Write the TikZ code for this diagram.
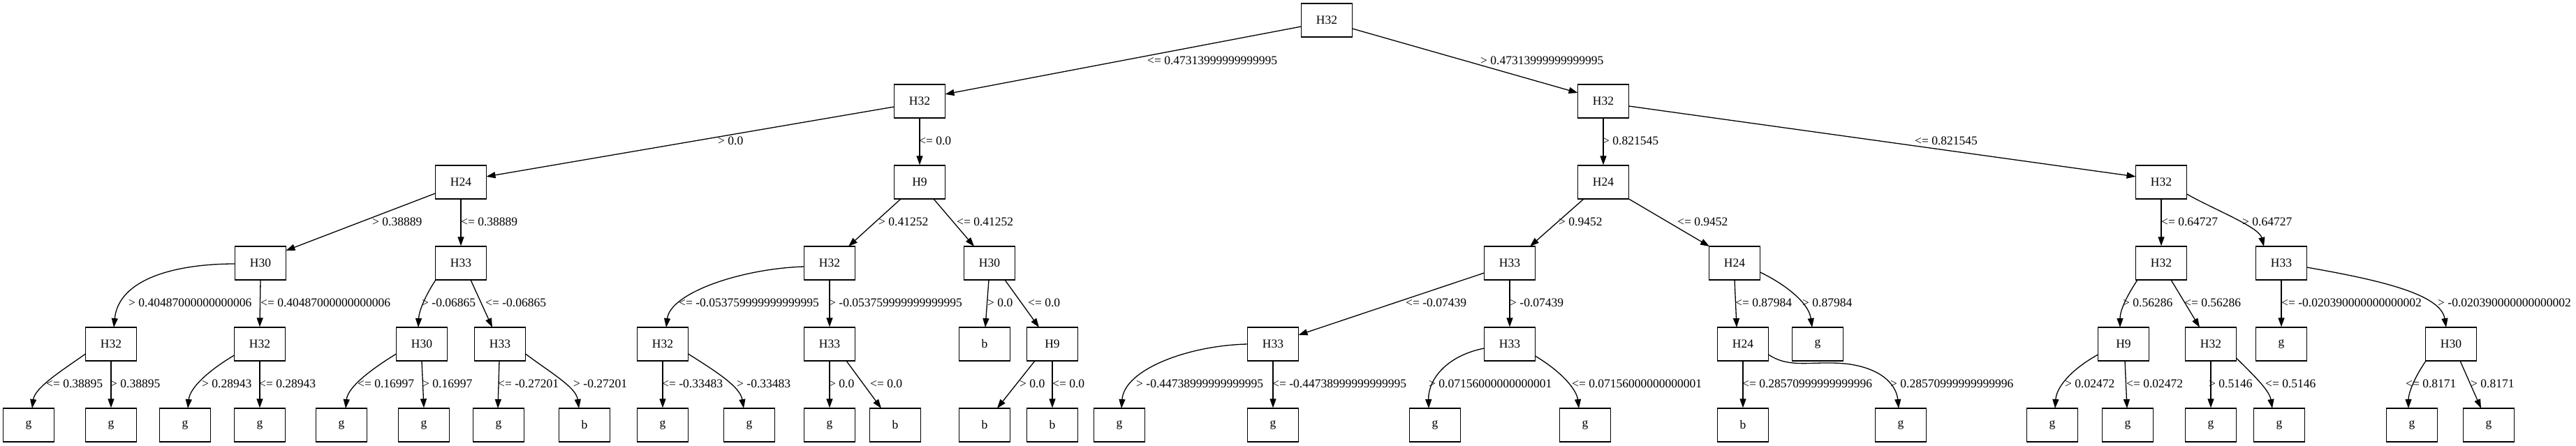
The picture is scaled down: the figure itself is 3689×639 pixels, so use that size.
\documentclass[tikz,border=0pt]{standalone}
\usepackage{fontspec}
\setmainfont{Liberation Serif}
\usetikzlibrary{arrows.meta,calc}
\begin{document}
\begin{tikzpicture}[x=1pt,y=-1pt,
  every node/.style={font=\fontsize{17.5}{21}\selectfont},
  box/.style={draw, line width=1.3pt, minimum width=73pt, minimum height=48pt, inner sep=0pt},
  lbl/.style={anchor=west, inner sep=0pt},
  edge/.style={line width=1.3pt, -{Triangle[length=13pt,width=9pt]}}]
\useasboundingbox (0,0) rectangle (3689,639);
% level 0
\node[box] (r) at (1900,29) {H32};
% level 1
\node[box] (a) at (1317,145) {H32};
\node[box] (b) at (2296,145) {H32};
% level 2
\node[box] (aa) at (660,261) {H24};
\node[box] (ab) at (1317,261) {H9};
\node[box] (ba) at (2296,261) {H24};
\node[box] (bb) at (3095,261) {H32};
% level 3
\node[box] (aaa) at (373,377) {H30};
\node[box] (aab) at (660,377) {H33};
\node[box] (aba) at (1188,377) {H32};
\node[box] (abb) at (1417,377) {H30};
\node[box] (baa) at (2162,377) {H33};
\node[box] (bab) at (2484,377) {H24};
\node[box] (bba) at (3095,377) {H32};
\node[box] (bbb) at (3267,377) {H33};
% level 4
\node[box] (aaaa) at (159,493) {H32};
\node[box] (aaab) at (372,493) {H32};
\node[box] (aaba) at (604,493) {H30};
\node[box] (aabb) at (716,493) {H33};
\node[box] (abaa) at (949,493) {H32};
\node[box] (abab) at (1188,493) {H33};
\node[box] (abba) at (1410,493) {b};
\node[box] (abbb) at (1507,493) {H9};
\node[box] (baaa) at (1823,493) {H33};
\node[box] (baab) at (2162,493) {H33};
\node[box] (baba) at (2496,493) {H24};
\node[box] (babb) at (2603,493) {g};
\node[box] (bbaa) at (3041,493) {H9};
\node[box] (bbab) at (3166,493) {H32};
\node[box] (bbba) at (3267,493) {g};
\node[box] (bbbb) at (3510,493) {H30};
% level 5
\node[box] (aaaa1) at (41,609) {g};
\node[box] (aaaa2) at (159,609) {g};
\node[box] (aaab1) at (265,609) {g};
\node[box] (aaab2) at (372,609) {g};
\node[box] (aaba1) at (489,609) {g};
\node[box] (aaba2) at (607,609) {g};
\node[box] (aabb1) at (714,609) {g};
\node[box] (aabb2) at (837,609) {b};
\node[box] (abaa1) at (949,609) {g};
\node[box] (abaa2) at (1073,609) {g};
\node[box] (abab1) at (1188,609) {g};
\node[box] (abab2) at (1282,609) {b};
\node[box] (abbb1) at (1410,609) {b};
\node[box] (abbb2) at (1507,609) {b};
\node[box] (baaa1) at (1603,609) {g};
\node[box] (baaa2) at (1823,609) {g};
\node[box] (baab1) at (2055,609) {g};
\node[box] (baab2) at (2270,609) {g};
\node[box] (baba1) at (2496,609) {b};
\node[box] (baba2) at (2722,609) {g};
\node[box] (bbaa1) at (2939,609) {g};
\node[box] (bbaa2) at (3047,609) {g};
\node[box] (bbab1) at (3166,609) {g};
\node[box] (bbab2) at (3264,609) {g};
\node[box] (bbbb1) at (3454,609) {g};
\node[box] (bbbb2) at (3564,609) {g};

% edges level 0-1
\draw[edge] ($(r)+(-36.5,9)$) -- ($(a)+(36.5,-10)$);
\draw[edge] ($(r)+(36.5,12)$) -- ($(b)+(-36.5,-12)$);
% level 1-2
\draw[edge] ($(a)+(-36.5,8)$) -- ($(aa)+(36.5,-8)$);
\draw[edge] (a.south) -- (ab.north);
\draw[edge] (b.south) -- (ba.north);
\draw[edge] ($(b)+(36.5,7)$) -- ($(bb)+(-36.5,-8)$);
% level 2-3
\draw[edge] ($(aa)+(-36.5,16)$) -- ($(aaa)+(36.5,-18)$);
\draw[edge] (aa.south) -- (aab.north);
\draw[edge] ($(ab)+(-27,24)$) -- ($(aba)+(27,-24)$);
\draw[edge] ($(ab)+(20,24)$) -- ($(abb)+(-22,-24)$);
\draw[edge] ($(ba)+(-28,24)$) -- ($(baa)+(29,-24)$);
\draw[edge] ($(ba)+(36.5,24)$) -- ($(bab)+(-36,-24)$);
\draw[edge] (bb.south) -- (bba.north);
\draw[edge] ($(bb)+(36.5,17)$) .. controls (3170,300) and (3235,325) .. ($(bbb)+(-25,-24)$);
% level 3-4
\draw[edge] ($(aaa)+(-36.5,1)$) .. controls (250,378) and (170,400) .. ($(aaaa)+(4,-24)$);
\draw[edge] (aaa.south) -- (aaab.north);
\draw[edge] ($(aab)+(-36,24)$) .. controls (610,422) and (600,445) .. ($(aaba)+(-5,-24)$);
\draw[edge] ($(aab)+(14,24)$) -- ($(aabb)+(-11,-24)$);
\draw[edge] ($(aba)+(-36.5,5)$) .. controls (1060,385) and (960,420) .. ($(abaa)+(5,-24)$);
\draw[edge] (aba.south) -- (abab.north);
\draw[edge] ($(abb)+(-1,24)$) -- ($(abba)+(1,-24)$);
\draw[edge] ($(abb)+(22,24)$) -- ($(abbb)+(-19,-24)$);
\draw[edge] ($(baa)+(-36.5,14)$) -- ($(baaa)+(36.5,-13)$);
\draw[edge] (baa.south) -- (baab.north);
\draw[edge] ($(bab)+(0,24)$) -- ($(baba)+(-9,-24)$);
\draw[edge] ($(bab)+(36.5,13)$) .. controls (2552,405) and (2590,432) .. ($(babb)+(-8,-24)$);
\draw[edge] ($(bba)+(-34,24)$) .. controls (3045,425) and (3036,445) .. ($(bbaa)+(-5,-24)$);
\draw[edge] ($(bba)+(14,24)$) -- ($(bbab)+(-16,-24)$);
\draw[edge] (bbb.south) -- (bbba.north);
\draw[edge] ($(bbb)+(36.5,6)$) .. controls (3400,400) and (3495,420) .. ($(bbbb)+(-7,-24)$);
% level 4-5
\draw[edge] ($(aaaa)+(-36.5,14)$) .. controls (90,530) and (50,555) .. ($(aaaa1)+(5,-24)$);
\draw[edge] (aaaa.south) -- (aaaa2.north);
\draw[edge] ($(aaab)+(-36.5,16)$) .. controls (300,530) and (272,555) .. ($(aaab1)+(4,-24)$);
\draw[edge] (aaab.south) -- (aaab2.north);
\draw[edge] ($(aaba)+(-36.5,14)$) .. controls (530,530) and (498,555) .. ($(aaba1)+(6,-24)$);
\draw[edge] (aaba.south) -- (aaba2.north);
\draw[edge] ($(aabb)+(-1,24)$) -- ($(aabb1)+(-1,-24)$);
\draw[edge] ($(aabb)+(36.5,14)$) .. controls (790,535) and (825,555) .. ($(aabb2)+(-8,-24)$);
\draw[edge] (abaa.south) -- (abaa1.north);
\draw[edge] ($(abaa)+(36.5,14)$) .. controls (1030,535) and (1060,555) .. ($(abaa2)+(-8,-24)$);
\draw[edge] (abab.south) -- (abab1.north);
\draw[edge] ($(abab)+(24,24)$) -- ($(abab2)+(-20,-24)$);
\draw[edge] ($(abbb)+(-25,24)$) -- ($(abbb1)+(18,-24)$);
\draw[edge] (abbb.south) -- (abbb2.north);
\draw[edge] ($(baaa)+(-36.5,0)$) .. controls (1700,495) and (1610,530) .. ($(baaa1)+(3,-24)$);
\draw[edge] (baaa.south) -- (baaa2.north);
\draw[edge] ($(baab)+(-36.5,6)$) .. controls (2070,510) and (2045,545) .. ($(baab1)+(-9,-24)$);
\draw[edge] ($(baab)+(36.5,17)$) .. controls (2240,535) and (2258,560) .. ($(baab2)+(-9,-24)$);
\draw[edge] (baba.south) -- (baba1.north);
\coordinate (wv) at (2650,522);
\draw[edge] ($(baba)+(36.5,15)$) .. controls (2565,530) and (2600,515) .. (wv) .. controls (2700,530) and (2716,555) .. ($(baba2)+(-3,-24)$);
\draw[edge] ($(bbaa)+(-36.5,15)$) .. controls (2965,530) and (2945,555) .. ($(bbaa1)+(4,-24)$);
\draw[edge] ($(bbaa)+(2,24)$) -- ($(bbaa2)+(-1,-24)$);
\draw[edge] (bbab.south) -- (bbab1.north);
\draw[edge] ($(bbab)+(36.5,20)$) .. controls (3230,540) and (3250,560) .. ($(bbab2)+(-10,-24)$);
\draw[edge] ($(bbbb)+(-36,24)$) .. controls (3455,545) and (3449,565) .. ($(bbbb1)+(-5,-24)$);
\draw[edge] ($(bbbb)+(13,24)$) -- ($(bbbb2)+(-11,-24)$);

% labels level 0-1
\node[lbl] (t1) at (1643,87) {<= 0.47313999999999995};
\node[lbl] (t2) at (2120,87) {> 0.47313999999999995};
% level 1-2
\node[lbl] (t3) at (1028,202) {> 0.0};
\node[lbl] (t4) at (1316,202) {<= 0.0};
\node[lbl] (t5) at (2295,202) {> 0.821545};
\node[lbl] (t6) at (2742,202) {<= 0.821545};
% level 2-3
\node[lbl] (t7) at (533,318) {> 0.38889};
\node[lbl] (t8) at (660,318) {<= 0.38889};
\node[lbl] (t9) at (1258,318) {> 0.41252};
\node[lbl] (t10) at (1370,318) {<= 0.41252};
\node[lbl] (t11) at (2232,318) {> 0.9452};
\node[lbl] (t12) at (2402,318) {<= 0.9452};
\node[lbl] (t13) at (3095,318) {<= 0.64727};
\node[lbl] (t14) at (3211,318) {> 0.64727};
% level 3-4
\node[lbl] (t15) at (184,434) {> 0.40487000000000006};
\node[lbl] (t16) at (373,434) {<= 0.40487000000000006};
\node[lbl] (t17) at (604,434) {> -0.06865};
\node[lbl] (t18) at (695,434) {<= -0.06865};
\node[lbl] (t19) at (972,434) {<= -0.053759999999999995};
\node[lbl] (t20) at (1187,434) {> -0.053759999999999995};
\node[lbl] (t21) at (1414,434) {> 0.0};
\node[lbl] (t22) at (1472,434) {<= 0.0};
\node[lbl] (t23) at (2013,434) {<= -0.07439};
\node[lbl] (t24) at (2162,434) {> -0.07439};
\node[lbl] (t25) at (2485,434) {<= 0.87984};
\node[lbl] (t26) at (2581,434) {> 0.87984};
\node[lbl] (t27) at (3040,434) {> 0.56286};
\node[lbl] (t28) at (3128,434) {<= 0.56286};
\node[lbl] (t29) at (3267,434) {<= -0.020390000000000002};
\node[lbl] (t30) at (3491,434) {> -0.020390000000000002};
% level 4-5
\node[lbl] (t31) at (66,550) {<= 0.38895};
\node[lbl] (t32) at (158,550) {> 0.38895};
\node[lbl] (t33) at (289,550) {> 0.28943};
\node[lbl] (t34) at (371,550) {<= 0.28943};
\node[lbl] (t35) at (512,550) {<= 0.16997};
\node[lbl] (t36) at (605,550) {> 0.16997};
\node[lbl] (t37) at (713,550) {<= -0.27201};
\node[lbl] (t38) at (821,550) {> -0.27201};
\node[lbl] (t39) at (948,550) {<= -0.33483};
\node[lbl] (t40) at (1055,550) {> -0.33483};
\node[lbl] (t41) at (1187,550) {> 0.0};
\node[lbl] (t42) at (1246,550) {<= 0.0};
\node[lbl] (t43) at (1460,550) {> 0.0};
\node[lbl] (t44) at (1507,550) {<= 0.0};
\node[lbl] (t45) at (1627,550) {> -0.44738999999999995};
\node[lbl] (t46) at (1822,550) {<= -0.44738999999999995};
\node[lbl] (t47) at (2046,550) {> 0.07156000000000001};
\node[lbl] (t48) at (2251,550) {<= 0.07156000000000001};
\node[lbl] (t49) at (2495,550) {<= 0.28570999999999996};
\node[lbl] (t50) at (2707,550) {> 0.28570999999999996};
\node[lbl] (t51) at (2957,550) {> 0.02472};
\node[lbl] (t52) at (3045,550) {<= 0.02472};
\node[lbl] (t53) at (3163,550) {> 0.5146};
\node[lbl] (t54) at (3244,550) {<= 0.5146};
\node[lbl] (t55) at (3445,550) {<= 0.8171};
\node[lbl] (t56) at (3538,550) {> 0.8171};
\end{tikzpicture}
\end{document}
